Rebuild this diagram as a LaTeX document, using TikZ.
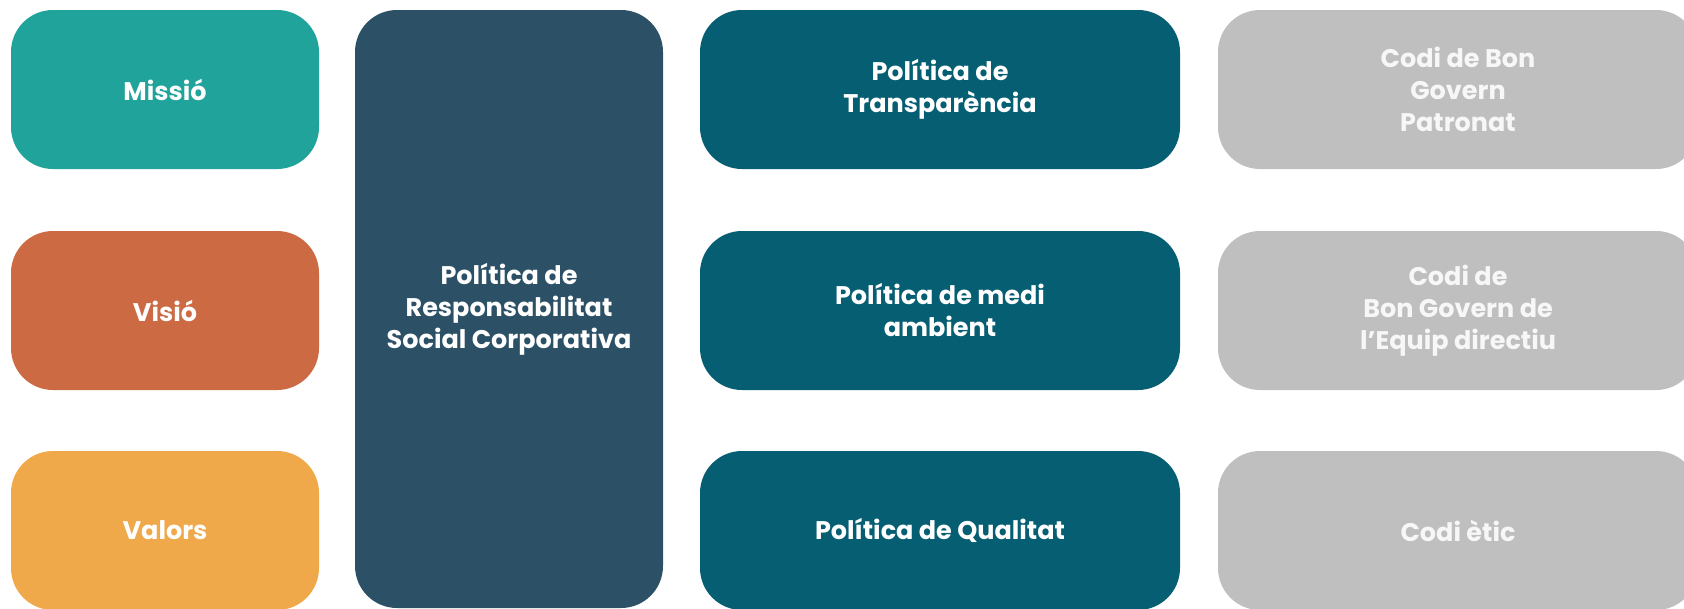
\documentclass[tikz,border=0pt]{standalone}
\usepackage{fontspec}
\setmainfont{Poppins}
\definecolor{cmissio}{HTML}{20A39A}
\definecolor{cvisio}{HTML}{CB6A43}
\definecolor{cvalors}{HTML}{F0A94A}
\definecolor{crsc}{HTML}{2C5166}
\definecolor{cpol}{HTML}{065E73}
\definecolor{ccodi}{HTML}{BFBFBF}
\definecolor{ccoditext}{HTML}{F7F7F7}
\tikzset{
  card/.style={rectangle, rounded corners=42pt, draw=none, text=white,
    font=\fontsize{25.5}{32}\selectfont\bfseries, align=center, inner sep=0pt},
  small/.style={card, minimum width=308pt, minimum height=159pt},
  wide/.style={card, minimum width=480pt, minimum height=159pt},
  codi/.style={wide, fill=ccodi, text=ccoditext},
}
\begin{document}
\begin{tikzpicture}[x=1pt,y=-1pt]
\useasboundingbox (0,0) rectangle (1684,608);
\node[small, fill=cmissio] (missio) at (165,89.5) {Missió};
\node[small, fill=cvisio] (visio) at (165,310.5) {Visió};
\node[small, fill=cvalors] (valors) at (165,530.5) {Valors};
\node[card, fill=crsc, minimum width=308pt, minimum height=598pt] (rsc) at (509,309) {Política de\\Responsabilitat\\Social Corporativa};
\node[wide, fill=cpol] (transp) at (940,89.5) {Política de\\Transparència};
\node[wide, fill=cpol] (medi) at (940,310.5) {Política de medi\\ambient};
\node[wide, fill=cpol] (qualitat) at (940,530.5) {Política de Qualitat};
\node[codi] (patronat) at (1458,89.5) {Codi de Bon\\Govern\\Patronat};
\node[codi] (equip) at (1458,310.5) {Codi de\\Bon Govern de\\l’Equip directiu};
\node[codi] (etic) at (1458,530.5) {Codi ètic};
\end{tikzpicture}
\end{document}
